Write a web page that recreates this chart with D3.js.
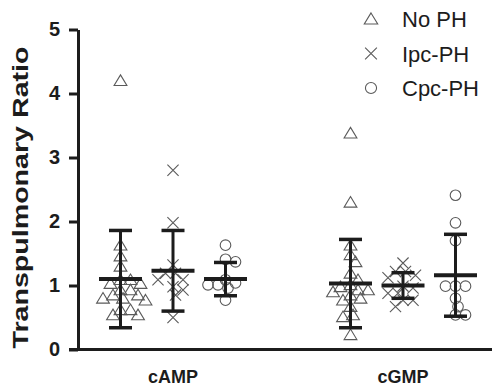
<!DOCTYPE html>
<html>
<head>
<meta charset="utf-8">
<script src="https://cdn.jsdelivr.net/npm/d3@7"></script>
<style>
  html, body { margin: 0; padding: 0; background: #fff; }
  svg { display: block; font-family: "Liberation Sans", Arial, sans-serif; }
</style>
</head>
<body>
<svg id="chart" width="492" height="390"></svg>
<script>
// Categories, groups and axis ticks
const categories = ["cAMP", "cGMP"];
const groups = ["No PH", "Ipc-PH", "Cpc-PH"];
const yTicks = [0, 1, 2, 3, 4, 5];

// Individual transpulmonary ratios per category and group
const campNoPH = [4.20, 1.63, 1.46, 1.30, 1.09, 1.09, 1.03, 1.03, 0.93, 0.93, 0.85, 0.85, 0.80, 0.80, 0.77, 0.62, 0.62, 0.54, 0.54];
const campIpc  = [2.80, 1.98, 1.32, 1.19, 1.19, 1.09, 1.09, 0.98, 0.93, 0.85, 0.50];
const campCpc  = [1.63, 1.41, 1.37, 1.09, 1.04, 1.01, 1.01, 0.96, 0.77];
const cgmpNoPH = [3.38, 2.30, 1.63, 1.48, 1.37, 1.19, 1.09, 1.01, 0.98, 0.93, 0.93, 0.90, 0.85, 0.80, 0.77, 0.67, 0.54, 0.51, 0.23];
const cgmpIpc  = [1.35, 1.22, 1.22, 1.16, 1.12, 0.99, 0.96, 0.88, 0.88, 0.77, 0.77, 0.67];
const cgmpCpc  = [2.41, 1.98, 1.70, 0.99, 0.99, 0.99, 0.80, 0.67, 0.54, 0.54];

// Group means and standard deviations (cAMP row, cGMP row)
const campMean = [1.10, 1.23, 1.10];
const campSD   = [0.76, 0.63, 0.26];
const cgmpMean = [1.03, 1.00, 1.16];
const cgmpSD   = [0.69, 0.20, 0.64];

const points = { cAMP: [campNoPH, campIpc, campCpc], cGMP: [cgmpNoPH, cgmpIpc, cgmpCpc] };
const means  = { cAMP: campMean, cGMP: cgmpMean };
const sds    = { cAMP: campSD, cGMP: cgmpSD };

const svg = d3.select("#chart");
const axisX = 78, axisTop = 29.5, axisBottom = 349.5;
const ink = "#1c1c1c", markInk = "#5a5a5a";

const y = d3.scaleLinear().domain([0, 5]).range([axisBottom, axisTop]);
const xCat = d3.scaleBand().domain(categories).range([58, 518]);
const xGrp = d3.scalePoint().domain(groups).range([-52.5, 52.5]);
const cx = (c, g) => xCat(c) + xCat.bandwidth() / 2 + xGrp(g);

// Marker shapes
function drawMarker(sel, g, s) {
  if (g === "No PH") {
    sel.append("path").attr("d", `M0,${-5.8*s}L${6.4*s},${4.8*s}L${-6.4*s},${4.8*s}Z`);
  } else if (g === "Ipc-PH") {
    const r = 5.6 * s;
    sel.append("path").attr("d", `M${-r},${-r}L${r},${r}M${-r},${r}L${r},${-r}`);
  } else {
    sel.append("circle").attr("r", 5.3 * s);
  }
}

// Simple beeswarm: spread values horizontally so markers don't fully overlap
function swarm(vals, minDist, step) {
  const placed = [];
  const order = vals.map((v, i) => ({ v, i })).sort((a, b) => b.v - a.v);
  const out = new Array(vals.length);
  order.forEach(({ v, i }) => {
    const py = y(v);
    for (let k = 0; k < 40; k++) {
      const off = k === 0 ? 0 : (k % 2 ? 1 : -1) * Math.ceil(k / 2) * step;
      const ok = placed.every(p => Math.hypot(p.x - off, p.y - py) >= minDist);
      if (ok) { placed.push({ x: off, y: py }); out[i] = off; break; }
    }
    if (out[i] === undefined) out[i] = 0;
  });
  return out;
}

// Data markers
const plot = svg.append("g");
categories.forEach(c => {
  groups.forEach((g, gi) => {
    const vals = points[c][gi];
    const offs = swarm(vals, 8.5, 2.5);
    vals.forEach((v, i) => {
      const m = plot.append("g")
        .attr("transform", `translate(${cx(c, g) + offs[i]},${y(v)})`)
        .attr("fill", "none").attr("stroke", markInk).attr("stroke-width", 1.1);
      drawMarker(m, g, 1);
    });
  });
});

// Mean and SD bars
const bars = svg.append("g").attr("stroke", ink).attr("fill", "none");
categories.forEach(c => {
  groups.forEach((g, gi) => {
    const x0 = cx(c, g), m = means[c][gi], s = sds[c][gi];
    bars.append("line").attr("x1", x0).attr("x2", x0)
      .attr("y1", y(m + s)).attr("y2", y(m - s)).attr("stroke-width", 3);
    [m + s, m - s].forEach(v => bars.append("line")
      .attr("x1", x0 - 11.5).attr("x2", x0 + 11.5)
      .attr("y1", y(v)).attr("y2", y(v)).attr("stroke-width", 3.5));
    bars.append("line").attr("x1", x0 - 21.5).attr("x2", x0 + 21.5)
      .attr("y1", y(m)).attr("y2", y(m)).attr("stroke-width", 4);
  });
});

// Y axis
const yAxis = svg.append("g").attr("transform", `translate(${axisX},0)`)
  .call(d3.axisLeft(y).tickValues(yTicks).tickFormat(d3.format("d"))
    .tickSize(9).tickSizeOuter(0).tickPadding(9));
yAxis.select(".domain").attr("stroke", ink).attr("stroke-width", 3);
yAxis.selectAll(".tick line").attr("stroke", ink).attr("stroke-width", 3);
yAxis.selectAll(".tick text").attr("fill", ink)
  .attr("font-size", 20).attr("font-weight", "bold")
  .attr("font-family", "'Liberation Sans', Arial, sans-serif");

// X axis baseline
svg.append("line").attr("x1", 69).attr("x2", 492)
  .attr("y1", axisBottom).attr("y2", axisBottom)
  .attr("stroke", ink).attr("stroke-width", 3);

// Category labels
categories.forEach(c => {
  svg.append("text").attr("x", xCat(c) + xCat.bandwidth() / 2).attr("y", 383)
    .attr("text-anchor", "middle").attr("font-size", 18).attr("font-weight", "bold")
    .attr("fill", ink).text(c);
});

// Y axis title
svg.append("text")
  .attr("transform", `translate(28,${(axisTop + axisBottom) / 2 + 8}) rotate(-90)`)
  .attr("text-anchor", "middle").attr("font-size", 22).attr("font-weight", "bold")
  .attr("fill", ink).attr("textLength", 302).attr("lengthAdjust", "spacingAndGlyphs")
  .text("Transpulmonary Ratio");

// Legend
const legend = svg.append("g");
groups.forEach((g, i) => {
  const ly = 19 + i * 34.5;
  const m = legend.append("g").attr("transform", `translate(371,${ly})`)
    .attr("fill", "none").attr("stroke", markInk).attr("stroke-width", 1.1);
  drawMarker(m, g, 1.05);
  legend.append("text").attr("x", 402).attr("y", ly + 8)
    .attr("font-size", 22).attr("fill", ink).text(g);
});
</script>
</body>
</html>
